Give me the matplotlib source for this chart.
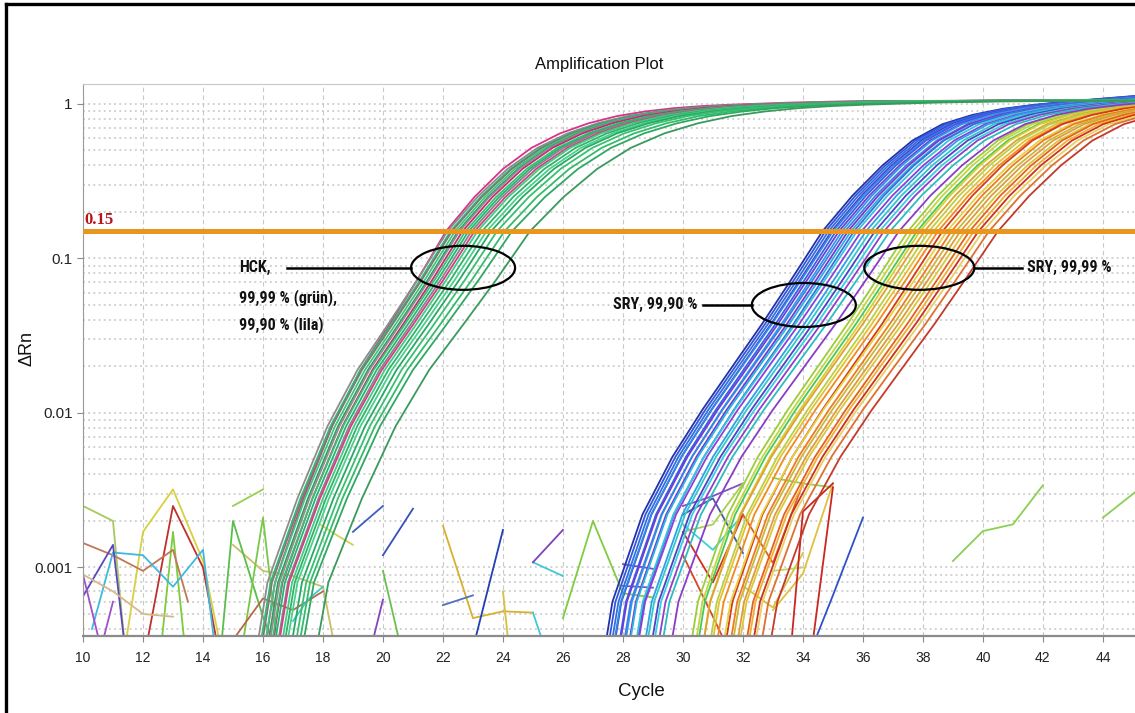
"""
Amplification plot (delta Rn vs cycle, log scale) for the HCK and SRY assays.

Each amplification trace is drawn from a read-off curve profile (delta Rn at
cycles relative to the threshold crossing) shifted to the well's Ct, plus the
short baseline-noise fragments that show up near the bottom of the log axis.
"""
import matplotlib
matplotlib.use("Agg")
import matplotlib.pyplot as plt
import numpy as np
from matplotlib.lines import Line2D
from matplotlib.patches import Ellipse
from matplotlib.ticker import FixedLocator, NullFormatter
from matplotlib.transforms import ScaledTranslation

plt.rcParams["font.family"] = ["Liberation Sans", "DejaVu Sans"]

# --- data -------------------------------------------------------------------
THRESHOLD = 0.15
CYCLE_TICKS = list(range(10, 46, 2))
DRN_TICKS = [0.001, 0.01, 0.1, 1]
DRN_TICK_LABELS = ["0.001", "0.01", "0.1", "1"]

# HCK profile: cycles relative to Ct -> delta Rn
HCK_OFFSET = [-6.5, -6, -5.5, -5, -4, -3, -2, -1, 0, 1, 2, 3, 4, 5, 6, 7, 8,
              9, 10, 12, 14, 18, 23, 26]
HCK_SHAPE = [0.0002, 0.0008, 0.0015, 0.0028, 0.0082, 0.019, 0.037, 0.073,
             0.15, 0.25, 0.38, 0.52, 0.645, 0.75, 0.835, 0.895, 0.94, 0.97,
             0.99, 1.02, 1.04, 1.05, 1.06, 1.065]
HCK_CT = [22.10, 22.15, 22.25, 22.30, 22.40, 22.50, 22.55, 22.65, 22.75,
          22.85, 22.95, 23.05, 23.15, 23.30, 23.45, 23.60, 23.80, 24.05,
          24.30, 24.90]
HCK_STRETCH = [0.95, 1.0, 1.0, 1.0, 1.0, 1.0, 1.0, 1.0, 1.02, 1.02, 1.02,
               1.03, 1.03, 1.04, 1.05, 1.05, 1.06, 1.08, 1.10, 1.12]
HCK_COLORS = ["#d6338a", "#8c8c8c", "#2fbf71", "#7a7a7a", "#3cc77a",
              "#2a9d60", "#909090", "#c8287a", "#35c46e", "#22b573",
              "#858585", "#d63c8c", "#3ccf7c", "#2db36a", "#4ad08a",
              "#29a865", "#38c070", "#33bb6b", "#2fa862", "#3a9a5c"]

# SRY profile: cycles relative to Ct -> delta Rn
SRY_OFFSET = [-7.4, -7, -6, -5, -4, -3, -2, -1, 0, 1, 2, 3, 4, 5, 6, 7, 8,
              9, 10, 11, 12]
SRY_SHAPE = [0.0002, 0.0006, 0.0022, 0.0052, 0.0105, 0.02, 0.038, 0.075,
             0.15, 0.255, 0.40, 0.58, 0.74, 0.85, 0.93, 0.985, 1.03, 1.07,
             1.11, 1.15, 1.19]

# SRY 99,90 %
SRY90_CT = [34.65, 34.75, 34.85, 34.95, 35.00, 35.10, 35.20, 35.30, 35.40,
            35.50, 35.60, 35.70, 35.80, 35.95, 36.10, 36.25, 36.40, 36.55,
            36.70, 36.90, 37.20]
SRY90_STRETCH = [1.0, 1.0, 1.0, 1.0, 1.01, 1.0, 1.01, 1.0, 1.02, 1.01, 1.02,
                 1.0, 1.02, 1.03, 1.02, 1.03, 1.03, 1.04, 1.04, 1.05, 1.05]
SRY90_COLORS = ["#2233aa", "#3355dd", "#2f6fe0", "#4a3fd0", "#2d8ae6",
                "#3b5ee8", "#6a3fd6", "#2e9be8", "#3f7fe6", "#7a35d0",
                "#27b4e0", "#3a6de0", "#35c5dd", "#8a40d8", "#2fa0e8",
                "#30c8c8", "#5040c8", "#38d0e0", "#9040c8", "#2abdc0",
                "#8a3cc4"]

# SRY 99,99 %
SRY99_CT = [37.50, 37.65, 37.80, 37.90, 38.05, 38.20, 38.35, 38.50, 38.65,
            38.80, 38.95, 39.10, 39.25, 39.40, 39.55, 39.70, 39.85, 40.00,
            40.20, 40.50]
SRY99_STRETCH = [1.0, 1.0, 1.01, 1.0, 1.02, 1.01, 1.02, 1.02, 1.0, 1.03,
                 1.02, 1.03, 1.03, 1.04, 1.03, 1.04, 1.04, 1.05, 1.05, 1.05]
SRY99_COLORS = ["#9ccc3c", "#c2d640", "#48c858", "#d8d030", "#e0a030",
                "#b8d048", "#e6c030", "#f08a20", "#d43a1a", "#e8d040",
                "#ee7a22", "#c8b838", "#e09a40", "#d8c838", "#e56020",
                "#f0b030", "#cc3020", "#e8d060", "#e07030", "#c43a28"]

# baseline fragments near the noise floor
NOISE_COLORS = [
    "#a8c860", "#d8d040", "#c0302a", "#7ccc3c", "#c07858", "#40b8e0",
    "#5a48c0", "#a050c8", "#d8b888", "#c8c068", "#98d050", "#58c048",
    "#78c848", "#b86848", "#40c8d0", "#d8d050", "#3a5fc0", "#3550b8",
    "#6ac050", "#8a40c0", "#d8b030", "#5070c0", "#2040b0", "#d8c040",
    "#40c8d8", "#40c8d8", "#8040c0", "#80cc40", "#7a50c8", "#7a50c8",
    "#8050c8", "#4a58a8", "#40d0d0", "#a8d050", "#d03020", "#d84828",
    "#e06020", "#d8c040", "#b8d868", "#90d050", "#3050c8", "#e0c040",
    "#c82820", "#c82820", "#8cd050", "#8cd050",
]
NOISE_CYCLES = [
    [10, 11, 11.4], [11.4, 12, 13, 14, 14.6], [12.1, 13, 14, 14.5],
    [12.6, 13, 13.4], [10, 11, 12, 13, 13.5], [10.3, 11, 12, 13, 14, 14.4],
    [10, 11, 11.4], [10, 10.6, 11], [10, 11, 12, 13], [15, 16, 17, 18, 18.4],
    [15, 16], [14.6, 15, 16, 16.4], [15.3, 16, 16.5], [14.8, 16, 17, 18],
    [17, 17.5, 18], [17.9, 18.5, 19], [19, 20], [20, 21], [20, 20.6],
    [19.6, 20], [22, 23, 24, 25], [22, 23], [23, 24], [24, 24.2], [25, 26],
    [25, 25.4], [25, 26], [26, 27, 28, 29], [28, 29], [28, 29],
    [30, 31, 32], [30, 31, 32], [30, 31, 32], [30, 31, 32], [30, 31, 32],
    [30, 31, 31.5], [32, 33, 34], [32, 33, 34], [33, 34], [33, 34, 35],
    [34.3, 35, 36], [33, 34, 35], [33.6, 34, 35], [34.3, 35],
    [39, 40, 41, 42], [44, 45.1],
]
NOISE_VALUES = [
    [0.0025, 0.0020, 0.0003], [0.0003, 0.0017, 0.0032, 0.0011, 0.0003],
    [0.0003, 0.0025, 0.001, 0.0003], [0.0003, 0.0017, 0.0003],
    [0.00144, 0.0012, 0.00095, 0.0013, 0.0006],
    [0.0004, 0.00125, 0.0012, 0.00075, 0.0013, 0.0003],
    [0.00065, 0.0014, 0.0003], [0.0009, 0.0003, 0.0006],
    [0.0009, 0.0007, 0.0005, 0.00048], [0.0014, 0.00095, 0.00088, 0.00075, 0.0003],
    [0.0025, 0.0032], [0.0003, 0.002, 0.00048, 0.0003], [0.0003, 0.0021, 0.0003],
    [0.0003, 0.00063, 0.00053, 0.0007], [0.00045, 0.00062, 0.00075],
    [0.0019, 0.0016, 0.0014], [0.0017, 0.0025], [0.0012, 0.0024],
    [0.00095, 0.0003], [0.0003, 0.00062],
    [0.00186, 0.00047, 0.00052, 0.00051], [0.00057, 0.00066],
    [0.0003, 0.00175], [0.0007, 0.0003], [0.00108, 0.00088],
    [0.00051, 0.0003], [0.00108, 0.00175], [0.00047, 0.002, 0.00068, 0.00064],
    [0.00105, 0.00098], [0.00076, 0.00074], [0.0025, 0.0029, 0.0035],
    [0.0022, 0.0028, 0.00124], [0.0019, 0.0013, 0.0022],
    [0.0017, 0.0019, 0.0035], [0.0017, 0.0008, 0.0022],
    [0.0012, 0.00048, 0.0003], [0.0022, 0.00107, 0.0035],
    [0.00076, 0.00055, 0.00124], [0.00095, 0.001], [0.0038, 0.0035, 0.0033],
    [0.0003, 0.00066, 0.0021], [0.00053, 0.00091, 0.0035],
    [0.0003, 0.0023, 0.0035], [0.0003, 0.0033],
    [0.0011, 0.00172, 0.0019, 0.0034], [0.0021, 0.0031],
]

# group call-outs: ellipse centre (cycle, delta Rn), leader line ends
CALLOUT_CENTERS = [(22.67, 0.087), (34.03, 0.050), (37.88, 0.087)]
CALLOUT_SIZES_IN = [(1.04, 0.44), (1.04, 0.44), (1.10, 0.44)]
LEADER_CYCLES = [(16.8, 20.93), (30.67, 32.3), (39.73, 41.3)]
LEADER_DRN = [0.087, 0.050, 0.087]


def draw_group(ax, offsets, shape, cts, stretches, colors, lw=1.3):
    off = np.asarray(offsets, dtype=float)
    val = np.asarray(shape, dtype=float)
    for ct, s, c in zip(cts, stretches, colors):
        ax.plot(ct + off * s, val, color=c, lw=lw, solid_capstyle="round")


fig = plt.figure(figsize=(11.35, 7.13), dpi=100)
ax = fig.add_axes([83 / 1135, 1 - 636 / 713, 1 - 83 / 1135, (636 - 84) / 713])
ax.set_yscale("log")
ax.set_xlim(10, 45.07)
ax.set_ylim(0.00036, 1.347)

# grid: dashed verticals on cycle ticks, dotted horizontals on every log tick
ax.xaxis.set_major_locator(FixedLocator(CYCLE_TICKS))
ax.yaxis.set_major_locator(FixedLocator(DRN_TICKS))
ax.set_yticklabels(DRN_TICK_LABELS)
ax.yaxis.set_minor_formatter(NullFormatter())
ax.grid(True, axis="x", which="major", color="#c9c9c9", lw=0.8,
        ls=(0, (4, 3)))
ax.grid(True, axis="y", which="both", color="#c4c4c4", lw=1.1,
        ls=(0, (1.2, 2.2)))
ax.set_axisbelow(True)

for color, xs, ys in zip(NOISE_COLORS, NOISE_CYCLES, NOISE_VALUES):
    ax.plot(xs, ys, color=color, lw=1.3)

draw_group(ax, SRY_OFFSET, SRY_SHAPE, SRY99_CT, SRY99_STRETCH, SRY99_COLORS)
draw_group(ax, SRY_OFFSET, SRY_SHAPE, SRY90_CT, SRY90_STRETCH, SRY90_COLORS)
draw_group(ax, HCK_OFFSET, HCK_SHAPE, HCK_CT, HCK_STRETCH, HCK_COLORS)

# threshold
ax.axhline(THRESHOLD, color="#e8961e", lw=3.6, zorder=5)
ax.text(10.03, THRESHOLD * 1.05, f"{THRESHOLD:.2f}", color="#b81418",
        fontsize=12, fontweight="bold",
        family=["Liberation Serif", "DejaVu Serif"],
        ha="left", va="bottom", zorder=6)

# call-out ellipses and leader lines
for (cx, cy), (w, h) in zip(CALLOUT_CENTERS, CALLOUT_SIZES_IN):
    off = ScaledTranslation(cx, cy, ax.transData)
    ax.add_patch(Ellipse((0, 0), w, h, fill=False, ec="black", lw=1.6,
                         transform=fig.dpi_scale_trans + off, zorder=7,
                         clip_on=False))
for xs, y in zip(LEADER_CYCLES, LEADER_DRN):
    ax.plot(xs, [y, y], color="black", lw=1.8, zorder=7)

lab = dict(fontsize=11.5, fontweight="bold", color="#111111",
           family=["Roboto Condensed", "Open Sans Condensed",
                   "Liberation Sans Narrow", "Liberation Sans"],
           zorder=8, va="center")
ax.text(15.2, 0.087, "HCK,", ha="left", **lab)
ax.text(15.2, 0.0555, "99,99 % (grün),", ha="left", **lab)
ax.text(15.2, 0.0371, "99,90 % (lila)", ha="left", **lab)
ax.text(30.5, 0.050, "SRY, 99,90 %", ha="right", **lab)
ax.text(41.47, 0.087, "SRY, 99,99 %", ha="left", **lab)

# axes styling
ax.spines["right"].set_visible(False)
ax.spines["top"].set_color("#c8c8c8")
ax.spines["left"].set_color("#9a9a9a")
ax.spines["bottom"].set_color("#8a8a8a")
ax.spines["bottom"].set_linewidth(1.6)
ax.tick_params(axis="both", which="major", direction="out", length=4,
               color="#8a8a8a", labelcolor="#222222", labelsize=10)
ax.tick_params(axis="x", pad=7)
ax.tick_params(axis="y", which="minor", length=0)
ax.tick_params(axis="y", labelsize=11)

ax.set_title("Amplification Plot", fontsize=12, color="#111111", pad=11,
             x=0.491)
ax.set_xlabel("Cycle", fontsize=13.5, color="#111111")
ax.xaxis.set_label_coords(0.531, -0.085)
ax.set_ylabel("\u0394Rn", fontsize=13, color="#111111")
ax.yaxis.set_label_coords(-0.045, 0.52)

# outer frame (left and top edges)
fig.add_artist(Line2D([5.5 / 1135, 5.5 / 1135], [0, 1 - 3.5 / 713],
                      transform=fig.transFigure, color="black", lw=2.4))
fig.add_artist(Line2D([5.5 / 1135, 1], [1 - 3.5 / 713, 1 - 3.5 / 713],
                      transform=fig.transFigure, color="black", lw=2.4))

fig.savefig("out.png", dpi=100, facecolor="white")
